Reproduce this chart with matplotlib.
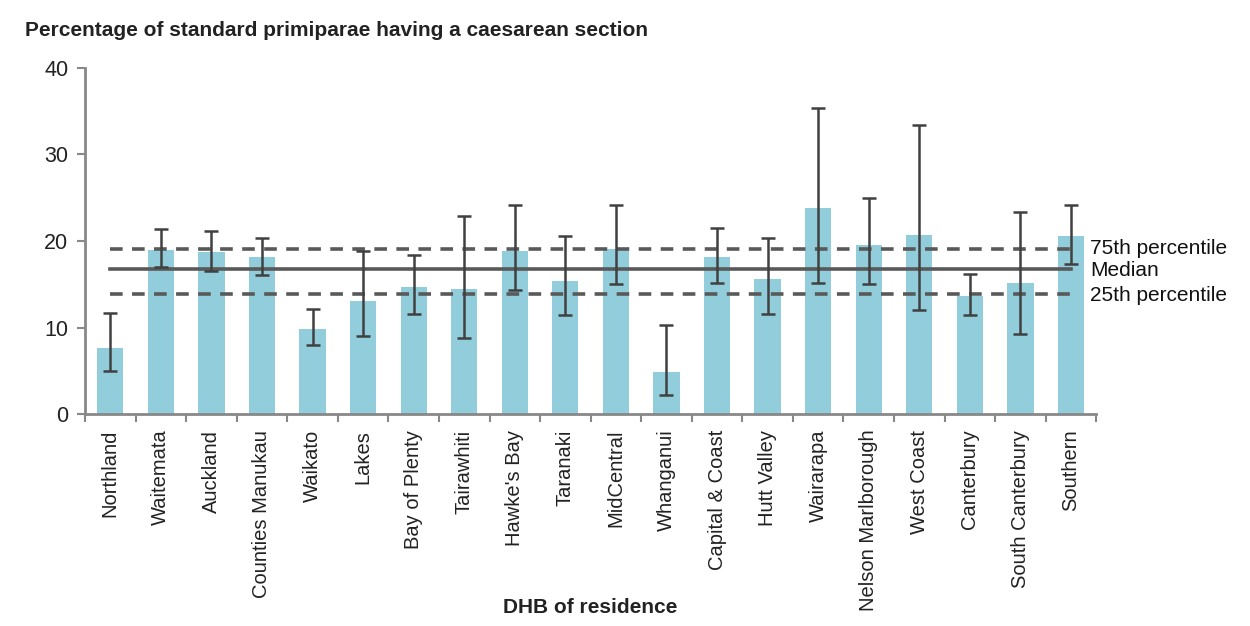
import numpy as np
import matplotlib.pyplot as plt

plt.rcParams['font.family'] = ['Liberation Sans', 'DejaVu Sans']

dhb = ['Northland', 'Waitemata', 'Auckland', 'Counties Manukau', 'Waikato',
       'Lakes', 'Bay of Plenty', 'Tairawhiti', "Hawke's Bay", 'Taranaki',
       'MidCentral', 'Whanganui', 'Capital & Coast', 'Hutt Valley', 'Wairarapa',
       'Nelson Marlborough', 'West Coast', 'Canterbury', 'South Canterbury', 'Southern']
pct = [7.7, 19.0, 18.7, 18.1, 9.9, 13.1, 14.7, 14.5, 18.8, 15.4,
       19.1, 4.9, 18.1, 15.6, 23.8, 19.5, 20.7, 13.7, 15.1, 20.6]
ci_low = [5.0, 17.0, 16.5, 16.1, 8.0, 9.0, 11.6, 8.8, 14.4, 11.5,
          15.0, 2.2, 15.2, 11.6, 15.2, 15.0, 12.0, 11.5, 9.3, 17.4]
ci_high = [11.7, 21.4, 21.1, 20.4, 12.2, 18.8, 18.4, 22.9, 24.2, 20.6,
           24.1, 10.3, 21.5, 20.4, 35.3, 25.0, 33.4, 16.2, 23.4, 24.2]
p25 = 13.9
median = 16.8
p75 = 19.1

x = np.arange(len(dhb))
pct_a = np.array(pct)
yerr = [pct_a - np.array(ci_low), np.array(ci_high) - pct_a]

fig = plt.figure(figsize=(12.5, 6.26), dpi=100)
ax = fig.add_axes([0.068, 0.338, 0.809, 0.554])

ax.bar(x, pct, width=0.52, color='#92CDDC', zorder=1)
ax.errorbar(x, pct, yerr=yerr, fmt='none', ecolor='#404040', elinewidth=1.8,
            capsize=5, capthick=1.8, zorder=3)

ax.plot([x[0], x[-1]], [p75, p75], color='#595959', lw=2.6, ls=(0, (3.5, 2.6)), zorder=2)
ax.plot([x[0], x[-1]], [median, median], color='#595959', lw=2.6, zorder=2)
ax.plot([x[0], x[-1]], [p25, p25], color='#595959', lw=2.6, ls=(0, (3.5, 2.6)), zorder=2)

ax.text(x[-1] + 0.38, p75, '75th percentile', fontsize=15, va='center', ha='left', color='#111111')
ax.text(x[-1] + 0.38, median - 0.2, 'Median', fontsize=15, va='center', ha='left', color='#111111')
ax.text(x[-1] + 0.38, p25 - 0.2, '25th percentile', fontsize=15, va='center', ha='left', color='#111111')

ax.set_xlim(-0.5, len(dhb) - 0.5)
ax.set_ylim(0, 40)
ax.set_yticks([0, 10, 20, 30, 40])
ax.tick_params(axis='y', labelsize=15.5, length=6, color='#888888', width=1.5, pad=6,
               labelcolor='#222222')

ax.set_xticks(x)
ax.set_xticklabels(dhb, rotation=90, fontsize=14.5, color='#222222')
ax.tick_params(axis='x', length=0, pad=11)
ax.set_xticks(np.arange(len(dhb) + 1) - 0.5, minor=True)
ax.tick_params(axis='x', which='minor', length=6, color='#888888', width=1.5)

for s in ['top', 'right']:
    ax.spines[s].set_visible(False)
for s in ['left', 'bottom']:
    ax.spines[s].set_color('#888888')
    ax.spines[s].set_linewidth(2)

fig.text(0.02, 0.952, 'Percentage of standard primiparae having a caesarean section',
         fontsize=15, fontweight='bold', color='#222222', va='center')
fig.text(0.472, 0.015, 'DHB of residence', fontsize=15, fontweight='bold',
         color='#222222', ha='center', va='bottom')

fig.savefig('out.png', dpi=100)
